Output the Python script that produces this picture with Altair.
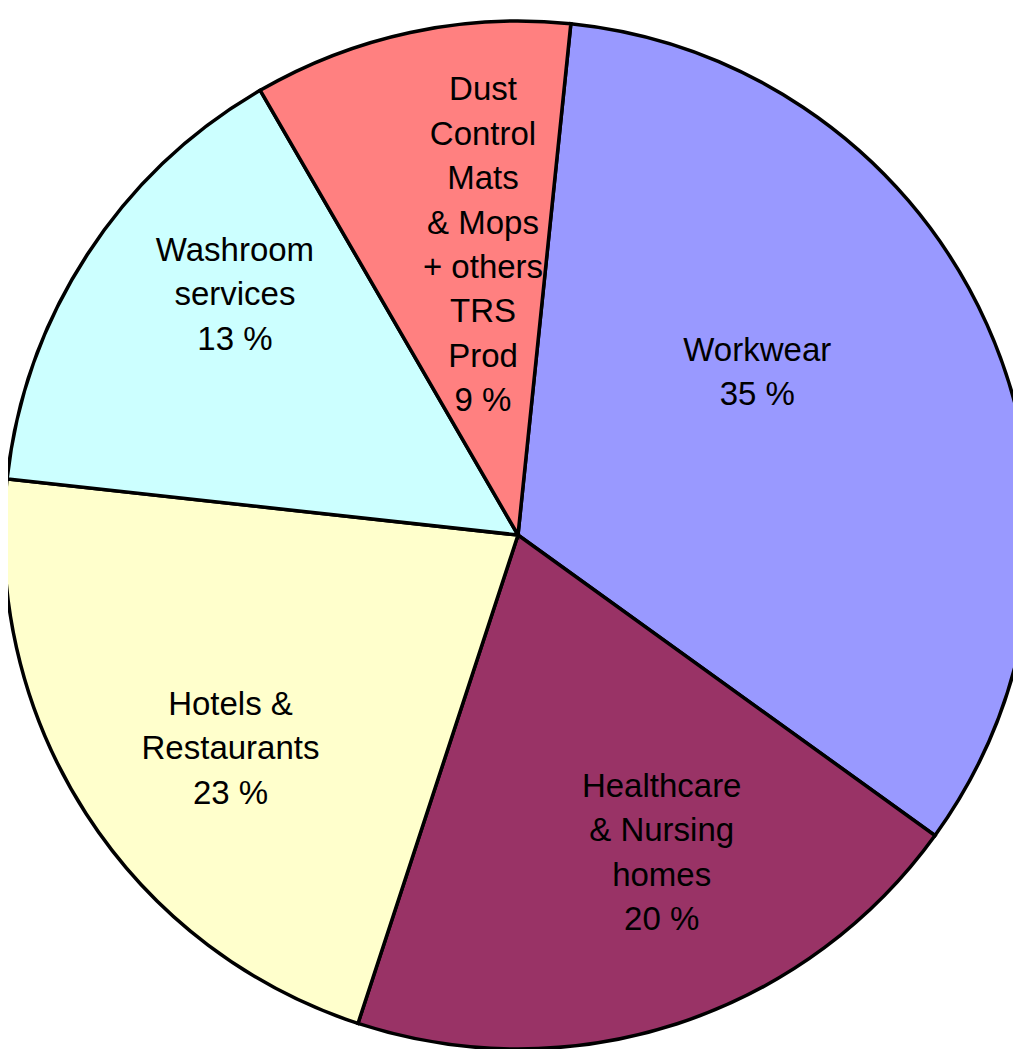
import math
import altair as alt
import pandas as pd

# ---- data ----
categories = [
    "Workwear",
    "Healthcare & Nursing homes",
    "Hotels & Restaurants",
    "Washroom services",
    "Dust Control Mats & Mops + others TRS Prod",
]
label_texts = [
    "Workwear\n35 %",
    "Healthcare\n& Nursing\nhomes\n20 %",
    "Hotels &\nRestaurants\n23 %",
    "Washroom\nservices\n13 %",
    "Dust\nControl\nMats\n& Mops\n+ others\nTRS\nProd\n9 %",
]
# slice shares as drawn in the picture (percent of full circle)
shares = [33.3, 20.1, 21.7, 14.9, 10.0]
colors = ["#9999FF", "#993366", "#FFFFCC", "#CCFFFF", "#FF8080"]

# label anchors as placed in the picture (polar: degrees clockwise from 12 o'clock, px from centre)
label_angle = [52.4, 150.3, 239.4, 315.1, 355.5]
label_radius = [302, 290, 334, 401, 446]

start_deg = 5.9  # first slice starts slightly clockwise of 12 o'clock

df = pd.DataFrame({
    "idx": list(range(len(categories))),
    "category": categories,
    "share": shares,
    "label": label_texts,
    "langle": label_angle,
    "lrad": label_radius,
})

start = math.radians(start_deg)
cx, cy, R = 510, 527, 514

pie = alt.Chart(df).mark_arc(outerRadius=R, stroke="black", strokeWidth=3.5).encode(
    theta=alt.Theta("share:Q", stack=True,
                    scale=alt.Scale(range=[start, start + 2 * math.pi])),
    order=alt.Order("idx:Q"),
    x=alt.value(cx),
    y=alt.value(cy),
    color=alt.Color(
        "category:N",
        sort=categories,
        scale=alt.Scale(domain=categories, range=colors),
        legend=None,
    ),
)

labels = alt.Chart(df).mark_text(
    font="Liberation Sans",
    fontSize=33,
    lineHeight=44.4,
    lineBreak="\n",
    align="center",
    baseline="middle",
    color="black",
).encode(
    theta=alt.Theta("langle:Q", stack=False,
                    scale=alt.Scale(domain=[0, 360], range=[0, 2 * math.pi])),
    radius=alt.Radius("lrad:Q", scale=None),
    x=alt.value(cx),
    y=alt.value(cy),
    text="label:N",
)

chart = (
    alt.layer(pie, labels)
    .resolve_scale(theta="independent")
    .properties(width=1005, height=1041, padding=0,
                autosize=alt.AutoSizeParams(type="none"))
    .configure_view(stroke=None)
)

chart.save("out.html", embed_options={"renderer": "svg", "actions": False})
